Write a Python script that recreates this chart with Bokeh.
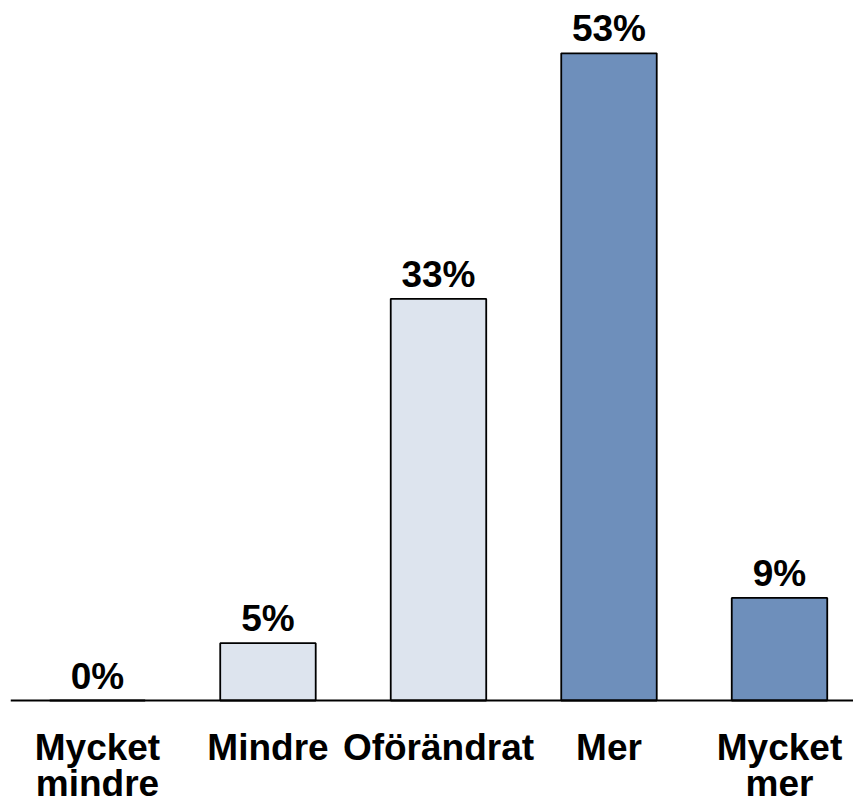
from bokeh.plotting import figure
from bokeh.models import ColumnDataSource, Range1d, Span
from bokeh.core.properties import value
from bokeh.embed import file_html
from bokeh.resources import INLINE

categories = ["Mycket\nmindre", "Mindre", "Oförändrat", "Mer", "Mycket\nmer"]
values = [0.0, 4.7, 32.9, 53.0, 8.4]
labels = ["0%", "5%", "33%", "53%", "9%"]
colors = ["#dde4ee", "#dde4ee", "#dde4ee", "#6e8fbb", "#6e8fbb"]

xs = list(range(len(categories)))
zeros = [0] * len(categories)
src = ColumnDataSource(dict(x=xs, top=values, label=labels, color=colors,
                            cat=categories, zero=zeros))

p = figure(frame_width=843, frame_height=806, output_backend="svg", toolbar_location=None,
           x_range=Range1d(-0.51, 4.434), y_range=Range1d(-8.68, 57.33),
           min_border_left=10, min_border_right=0, min_border_top=0, min_border_bottom=0)
p.outline_line_color = None
p.background_fill_color = "white"
p.border_fill_color = "white"
p.xgrid.visible = False
p.ygrid.visible = False
p.xaxis.visible = False
p.yaxis.visible = False

p.vbar(x="x", top="top", bottom=0, width=0.56, source=src, fill_color="color",
       line_color="black", line_width=1.8)

p.add_layout(Span(location=0, dimension="width", line_color="black", line_width=2))

p.text(x="x", y="top", text="label", source=src, text_align="center",
       text_baseline="bottom", y_offset=-4, text_font=value("Liberation Sans"),
       text_font_size="37px", text_font_style="bold", text_color="black")

p.text(x="x", y="zero", text="cat", source=src, text_align="center",
       text_baseline="top", y_offset=26, text_line_height=0.88,
       text_font=value("Liberation Sans"),
       text_font_size="37px", text_font_style="bold", text_color="black")

open("out.html", "w").write(file_html(p, INLINE))
